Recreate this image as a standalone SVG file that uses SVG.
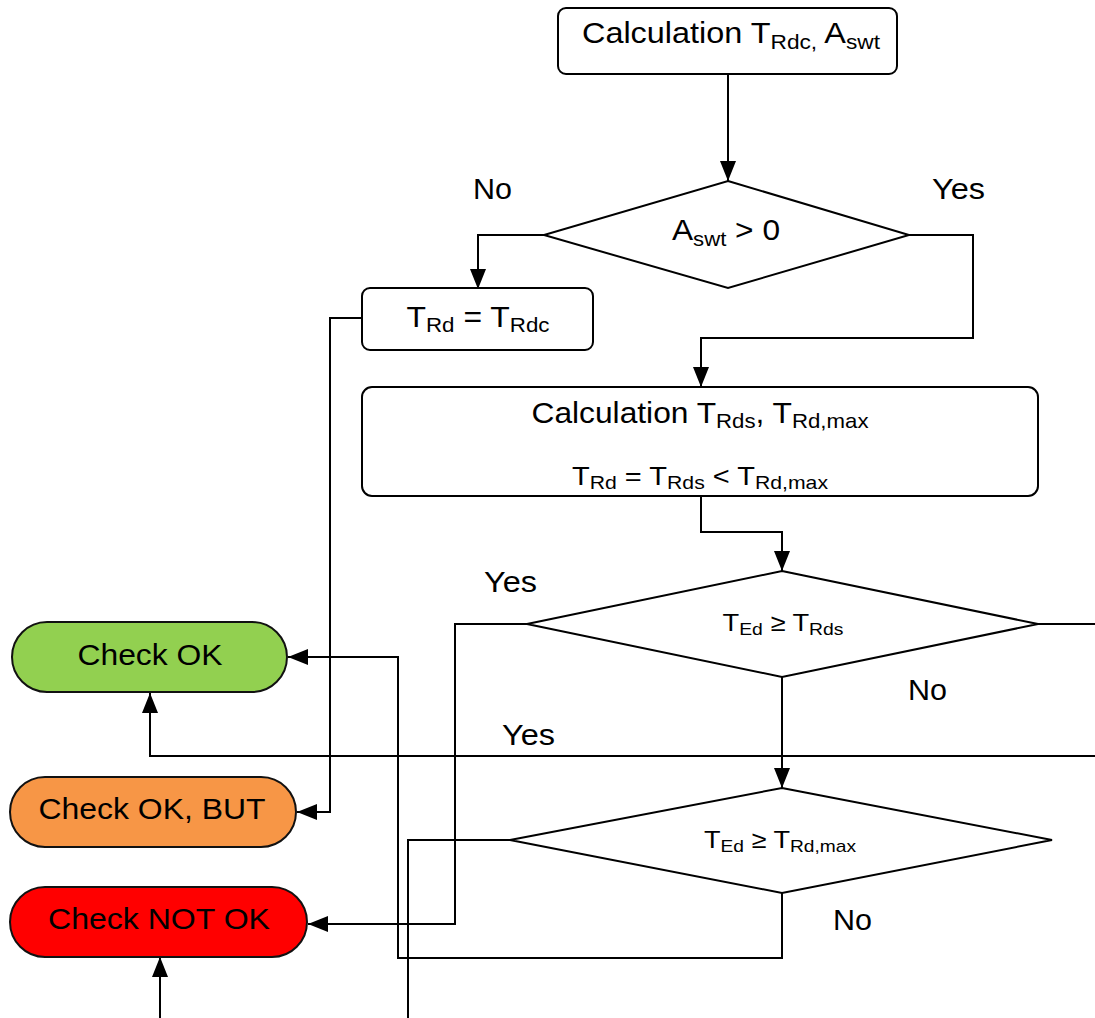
<svg xmlns="http://www.w3.org/2000/svg" width="1095" height="1018" viewBox="0 0 1095 1018">
  <style>
    text { font-family: "Liberation Sans", Arial, sans-serif; fill: #000; }
    .box { fill: #fff; stroke: #000; stroke-width: 2; }
    .term { stroke: #111; stroke-width: 2; }
    .wire { fill: none; stroke: #000; stroke-width: 2; }
    .big { font-size: 30px; }
    .mid { font-size: 26px; }
    .small { font-size: 24px; }
    .lbl { font-size: 29px; }
  </style>
  <defs>
    <marker id="arrow" markerUnits="userSpaceOnUse" viewBox="0 0 20 16" refX="20" refY="8" markerWidth="20" markerHeight="16" orient="auto">
      <path d="M0,0 L20,8 L0,16 z" fill="#000"/>
    </marker>
  </defs>
  <rect width="1095" height="1018" fill="#fff"/>

  <!-- connectors -->
  <g id="connectors" class="wire">
    <path d="M728,74 V181" marker-end="url(#arrow)"/>
    <path d="M544,235 H478 V289" marker-end="url(#arrow)"/>
    <path d="M909,235 H973 V338 H701 V387" marker-end="url(#arrow)"/>
    <path d="M362,318 H330 V812 H297" marker-end="url(#arrow)"/>
    <path d="M701,496 V532 H782 V571" marker-end="url(#arrow)"/>
    <path d="M527,624 H455 V924 H308" marker-end="url(#arrow)"/>
    <path d="M1038,624 H1095"/>
    <path d="M782,677 V788" marker-end="url(#arrow)"/>
    <path d="M1095,756 H150 V693" marker-end="url(#arrow)"/>
    <path d="M510,840 H408 V1018"/>
    <path d="M782,893 V958 H398 V657 H288" marker-end="url(#arrow)"/>
    <path d="M160,1018 V957" marker-end="url(#arrow)"/>
  </g>

  <!-- branch labels -->
  <g id="labels" class="lbl" lengthAdjust="spacingAndGlyphs">
    <text x="473" y="199" textLength="39" lengthAdjust="spacingAndGlyphs">No</text>
    <text x="932" y="199" textLength="53" lengthAdjust="spacingAndGlyphs">Yes</text>
    <text x="484" y="592" textLength="53" lengthAdjust="spacingAndGlyphs">Yes</text>
    <text x="908" y="700" textLength="39" lengthAdjust="spacingAndGlyphs">No</text>
    <text x="502" y="745" textLength="53" lengthAdjust="spacingAndGlyphs">Yes</text>
    <text x="833" y="930" textLength="39" lengthAdjust="spacingAndGlyphs">No</text>
  </g>

  <g id="calc-rdc">
    <rect class="box" x="558" y="8" width="339" height="66" rx="8"/>
    <text class="big" x="731" y="43" text-anchor="middle" textLength="298" lengthAdjust="spacingAndGlyphs">Calculation T<tspan font-size="21" dy="6">Rdc,</tspan><tspan dy="-6"> A</tspan><tspan font-size="21" dy="6">swt</tspan></text>
  </g>

  <g id="dec-aswt">
    <polygon class="box" points="728,181 909,235 728,288 544,235"/>
    <text class="big" x="726" y="240" text-anchor="middle" textLength="108" lengthAdjust="spacingAndGlyphs">A<tspan font-size="21" dy="6">swt</tspan><tspan dy="-6"> &gt; 0</tspan></text>
  </g>

  <g id="trd-trdc">
    <rect class="box" x="362" y="288" width="231" height="62" rx="8"/>
    <text class="big" x="478" y="327" text-anchor="middle" textLength="143" lengthAdjust="spacingAndGlyphs">T<tspan font-size="21" dy="5">Rd</tspan><tspan dy="-5"> = T</tspan><tspan font-size="21" dy="5">Rdc</tspan></text>
  </g>

  <g id="calc-rds">
    <rect class="box" x="362" y="387" width="676" height="109" rx="10"/>
    <text class="big" x="700" y="423" text-anchor="middle" textLength="337" lengthAdjust="spacingAndGlyphs">Calculation T<tspan font-size="21" dy="5">Rds</tspan><tspan dy="-5">,  T</tspan><tspan font-size="21" dy="5">Rd,max</tspan></text>
    <text class="mid" x="700" y="485" text-anchor="middle" textLength="256" lengthAdjust="spacingAndGlyphs">T<tspan font-size="19" dy="4">Rd</tspan><tspan dy="-4"> = T</tspan><tspan font-size="19" dy="4">Rds</tspan><tspan dy="-4">  &lt; T</tspan><tspan font-size="19" dy="4">Rd,max</tspan></text>
  </g>

  <g id="dec-rds">
    <polygon class="box" points="782,571 1038,624 782,677 527,624"/>
    <text class="small" x="783" y="631" text-anchor="middle" textLength="121" lengthAdjust="spacingAndGlyphs">T<tspan font-size="17" dy="4">Ed</tspan><tspan dy="-4"> ≥ T</tspan><tspan font-size="17" dy="4">Rds</tspan></text>
  </g>

  <g id="dec-rdmax">
    <polygon class="box" points="782,788 1052,840 782,893 510,840"/>
    <text class="small" x="780" y="848" text-anchor="middle" textLength="152" lengthAdjust="spacingAndGlyphs">T<tspan font-size="17" dy="4">Ed</tspan><tspan dy="-4"> ≥ T</tspan><tspan font-size="17" dy="4">Rd,max</tspan></text>
  </g>

  <g id="check-ok">
    <rect class="term" x="12" y="622" width="275" height="70" rx="35" fill="#92d050"/>
    <text class="big" x="150" y="665" text-anchor="middle" textLength="145" lengthAdjust="spacingAndGlyphs">Check OK</text>
  </g>

  <g id="check-ok-but">
    <rect class="term" x="10" y="777" width="286" height="70" rx="35" fill="#f79646"/>
    <text class="big" x="152" y="819" text-anchor="middle" textLength="227" lengthAdjust="spacingAndGlyphs">Check OK, BUT</text>
  </g>

  <g id="check-not-ok">
    <rect class="term" x="10" y="887" width="297" height="70" rx="35" fill="#ff0000"/>
    <text class="big" x="159" y="929" text-anchor="middle" textLength="222" lengthAdjust="spacingAndGlyphs">Check NOT OK</text>
  </g>
</svg>
